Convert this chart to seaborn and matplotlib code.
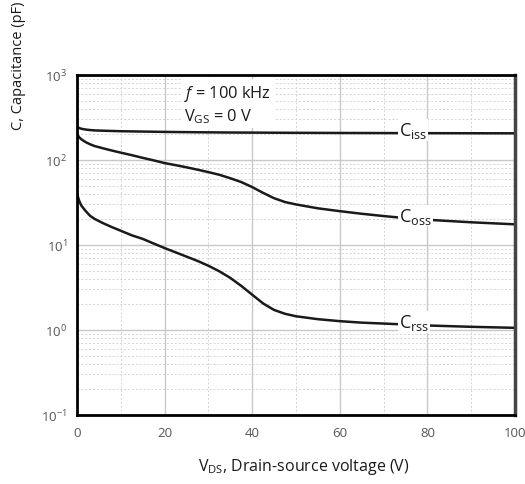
import numpy as np
import matplotlib
matplotlib.use("Agg")
import matplotlib.pyplot as plt
import matplotlib.ticker as mticker
import seaborn as sns
import pandas as pd

# Values (pF vs V_DS)
vds = [0, 0.5, 1, 2, 3, 4, 6, 8, 10, 12.5, 15, 17.5, 20, 22.5, 25, 27.5, 30, 32.5,
       35, 37.5, 40, 42.5, 45, 47.5, 50, 55, 60, 65, 70, 75, 80, 90, 100]
ciss = [245, 238, 233, 228, 225, 223, 221, 219.5, 218, 217, 216, 215, 214, 213.3, 212.7,
        212, 211.5, 211, 210.5, 210.2, 210, 209.7, 209.4, 209.1, 208.8, 208.4, 208,
        207.7, 207.4, 207.1, 206.8, 206.4, 206]
coss = [202, 185, 175, 162, 153, 146, 137, 129, 122, 114, 106, 99, 92, 87, 82, 77, 72,
        67, 61, 55, 48, 41, 35.5, 32, 30, 27, 25, 23.3, 21.9, 20.7, 19.8, 18.5, 17.5]
crss = [40, 33, 29, 25, 22, 20.3, 18, 16.2, 14.7, 13, 11.8, 10.4, 9.2, 8.2, 7.3, 6.5,
        5.7, 4.9, 4.1, 3.3, 2.6, 2.05, 1.72, 1.55, 1.45, 1.34, 1.27, 1.22, 1.19, 1.16,
        1.13, 1.09, 1.06]

curve_names = ["iss", "oss", "rss"]
label_x = 73.6

df = pd.DataFrame({"vds": vds, "iss": ciss, "oss": coss, "rss": crss})
long = df.melt(id_vars="vds", var_name="curve", value_name="cap")

sns.set_style("white")
plt.rcParams['font.family'] = ['Open Sans', 'DejaVu Sans']
plt.rcParams['mathtext.fontset'] = 'custom'
plt.rcParams['mathtext.rm'] = 'Open Sans'
plt.rcParams['mathtext.it'] = 'Open Sans:italic'

fig = plt.figure(figsize=(5.25, 4.85), dpi=100)
ax = fig.add_axes([0.1467, 0.1423, 0.8343, 0.701])

sns.lineplot(data=long, x="vds", y="cap", units="curve", estimator=None,
             color="#1a1a1a", linewidth=1.8, ax=ax, legend=False)

ax.set_yscale("log")
ax.set_xlim(0, 100)
ax.set_ylim(0.1, 1000)

ax.xaxis.set_major_locator(mticker.MultipleLocator(20))
ax.xaxis.set_minor_locator(mticker.MultipleLocator(10))
ax.yaxis.set_major_locator(mticker.LogLocator(base=10, numticks=10))
ax.yaxis.set_minor_locator(mticker.LogLocator(base=10, subs=np.arange(2, 10), numticks=20))
ax.yaxis.set_minor_formatter(mticker.NullFormatter())

ax.grid(which="major", color="#c8c8c8", linewidth=1.0, linestyle="-")
ax.grid(which="minor", color="#d4d4d4", linewidth=0.7, linestyle=(0, (2, 2)))
ax.set_axisbelow(True)

ax.tick_params(which="major", direction="out", length=5, width=1.5, color="black",
               labelsize=9.5, labelcolor="#555555", pad=2)
ax.tick_params(which="minor", direction="in", length=3, width=1.2, color="black")
ax.tick_params(axis="x", which="major", pad=3)
for side in ["left", "bottom", "top"]:
    ax.spines[side].set_color("black")
    ax.spines[side].set_linewidth(2)
ax.spines["right"].set_color("#444444")
ax.spines["right"].set_linewidth(2.5)

ax.set_xlabel("")
ax.set_ylabel("")

# curve labels sitting on the lines
for name in curve_names:
    ly = np.interp(label_x + 3, vds, df[name])
    ax.text(label_x, ly * 0.95, "C$_{\\mathrm{" + name + "}}$", fontsize=13, ha="left",
            va="baseline", color="#1a1a1a",
            bbox=dict(facecolor="white", edgecolor="none", pad=0.6))

# test condition box
ax.text(24.5, 0.975, "$\\mathit{f}$ = 100 kHz\nV$_{\\mathrm{GS}}$ = 0 V",
        transform=ax.get_xaxis_transform(), fontsize=11.8, ha="left", va="top",
        linespacing=1.2, color="#1a1a1a",
        bbox=dict(facecolor="white", edgecolor="none", pad=2.5))

fig.text(19 / 525, 1 - 2 / 485, "C, Capacitance (pF)", rotation=90, fontsize=10.5,
         ha="center", va="top", color="#1a1a1a")
fig.text(304 / 525, 1 - 467 / 485, "V$_{\\mathrm{DS}}$, Drain-source voltage (V)", fontsize=11.5,
         ha="center", va="center", color="#1a1a1a")

fig.savefig("out.png", dpi=100)
